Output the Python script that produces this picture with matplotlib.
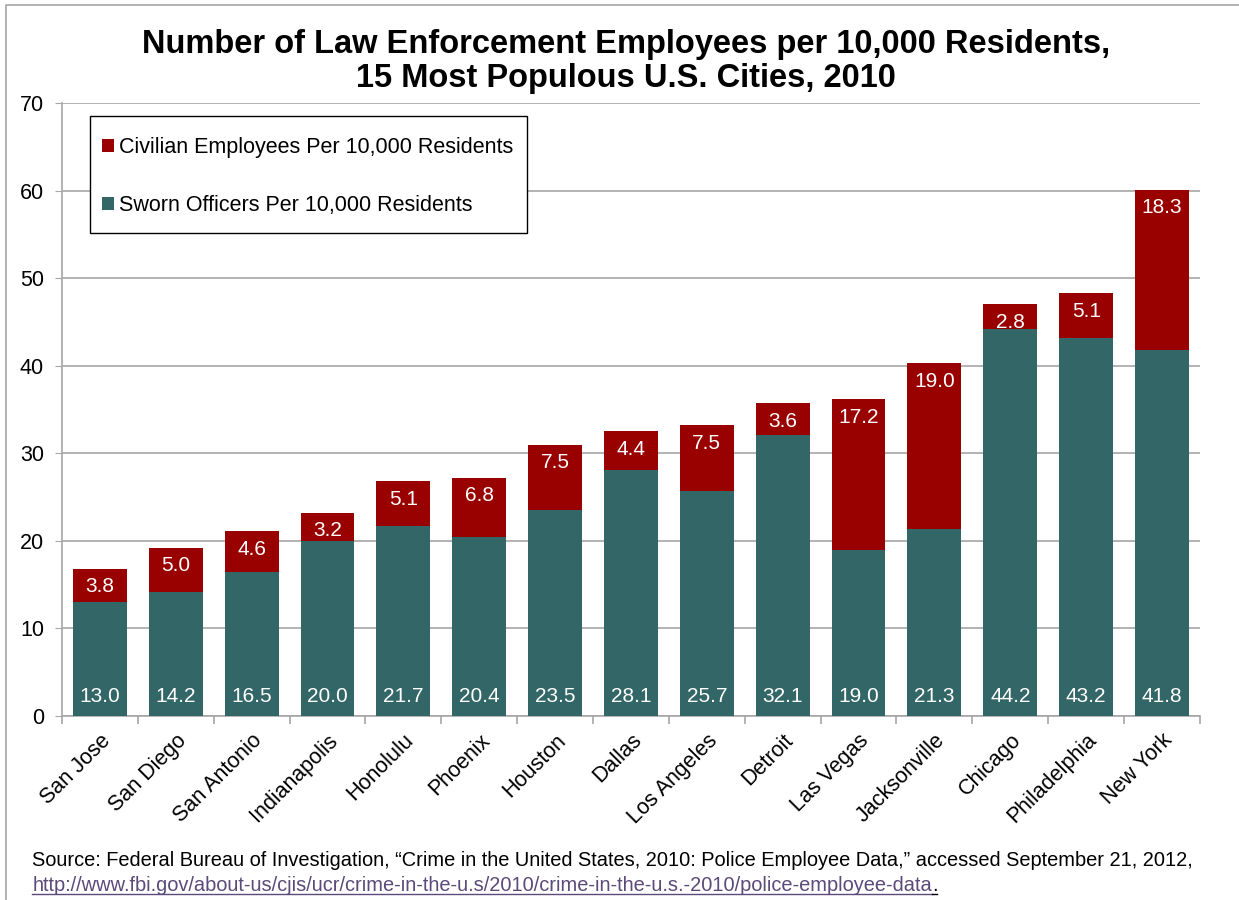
import numpy as np
import matplotlib.pyplot as plt
from matplotlib.lines import Line2D
from matplotlib.patches import Rectangle

plt.rcParams['font.family'] = ['Liberation Sans', 'DejaVu Sans']

cities = ['San Jose', 'San Diego', 'San Antonio', 'Indianapolis', 'Honolulu',
          'Phoenix', 'Houston', 'Dallas', 'Los Angeles', 'Detroit', 'Las Vegas',
          'Jacksonville', 'Chicago', 'Philadelphia', 'New York']
sworn = [13.0, 14.2, 16.5, 20.0, 21.7, 20.4, 23.5, 28.1, 25.7, 32.1, 19.0, 21.3, 44.2, 43.2, 41.8]
civilian = [3.8, 5.0, 4.6, 3.2, 5.1, 6.8, 7.5, 4.4, 7.5, 3.6, 17.2, 19.0, 2.8, 5.1, 18.3]

teal = '#336666'
red = '#990000'
grey = '#a6a6a6'

fig = plt.figure(figsize=(12.39, 9), dpi=100)
ax = fig.add_axes([0.050, 0.2044, 0.9185, 0.6812])

x = np.arange(len(cities))
sworn = np.array(sworn)
civilian = np.array(civilian)
b1 = ax.bar(x, sworn, width=0.71, color=teal, label='Sworn Officers Per 10,000 Residents', zorder=3)
b2 = ax.bar(x, civilian, width=0.71, bottom=sworn, color=red,
            label='Civilian Employees Per 10,000 Residents', zorder=3)

for xi, s, c in zip(x, sworn, civilian):
    ax.annotate(f'{s:.1f}', (xi, 0), xytext=(0, 14), textcoords='offset points',
                ha='center', va='center', color='white', fontsize=15, zorder=4)
    ax.annotate(f'{c:.1f}', (xi, s + c), xytext=(0, -13), textcoords='offset points',
                ha='center', va='center', color='white', fontsize=15, zorder=4)

ax.set_xlim(-0.5, len(cities) - 0.5)
ax.set_ylim(0, 70)
ax.set_yticks(range(0, 71, 10))
ax.yaxis.grid(True, color=grey, linewidth=1.2, zorder=0)
ax.tick_params(axis='y', labelsize=15.5, length=5, color=grey, pad=8)

ax.set_xticks(x)
ax.set_xticklabels(cities, rotation=45, ha='right', va='top', rotation_mode='anchor', fontsize=15.5)
ax.tick_params(axis='x', length=0, pad=10)
ax.set_xticks(np.arange(-0.5, len(cities), 1), minor=True)
ax.tick_params(axis='x', which='minor', length=6, color=grey, width=1.2)

for side in ['top', 'right']:
    ax.spines[side].set_visible(False)
for side in ['left', 'bottom']:
    ax.spines[side].set_color(grey)
    ax.spines[side].set_linewidth(1.2)

# legend box drawn separately so the padding can match
ax.add_patch(Rectangle((0.0246, 0.788), 0.384, 0.1908, transform=ax.transAxes,
                       facecolor='white', edgecolor='black', linewidth=1.0, zorder=5))
leg = ax.legend(handles=[b2, b1], loc='upper left', bbox_to_anchor=(0.0351, 0.945),
                borderaxespad=0, fontsize=15.5, frameon=False,
                handlelength=0.56, handleheight=0.56,
                handletextpad=0.23, labelspacing=1.75, borderpad=0)
leg.set_zorder(6)

fig.suptitle('Number of Law Enforcement Employees per 10,000 Residents,\n15 Most Populous U.S. Cities, 2010',
             x=0.505, y=0.968, fontsize=23.5, fontweight='bold', linespacing=1.15, va='top')

fig.text(0.026, 0.044, 'Source: Federal Bureau of Investigation, \u201cCrime in the United States, 2010: '
         'Police Employee Data,\u201d accessed September 21, 2012,', fontsize=14.4, va='center')
url = 'http://www.fbi.gov/about-us/cjis/ucr/crime-in-the-u.s/2010/crime-in-the-u.s.-2010/police-employee-data'
t_url = fig.text(0.026, 0.016, url, fontsize=14.4, va='center', color='#5b4a7a')

fig.canvas.draw()
r = fig.canvas.get_renderer()
bb = t_url.get_window_extent(r)
t_dot = fig.text(bb.x1 / fig.bbox.width, 0.016, '.', fontsize=14.4, va='center')
bbd = t_dot.get_window_extent(r)
uy = (bb.y0 + 1) / fig.bbox.height
fig.add_artist(Line2D([bb.x0 / fig.bbox.width, bb.x1 / fig.bbox.width], [uy, uy],
                      color='#5b4a7a', linewidth=1.0))
fig.add_artist(Line2D([bbd.x0 / fig.bbox.width, bbd.x1 / fig.bbox.width], [uy, uy],
                      color='black', linewidth=1.0))

# outer frame (only top and left edges show)
fig.add_artist(Line2D([0.0045, 0.0045, 1.0], [0.0, 0.9945, 0.9945], color=grey, linewidth=1.2))

fig.savefig('out.png', dpi=100)
